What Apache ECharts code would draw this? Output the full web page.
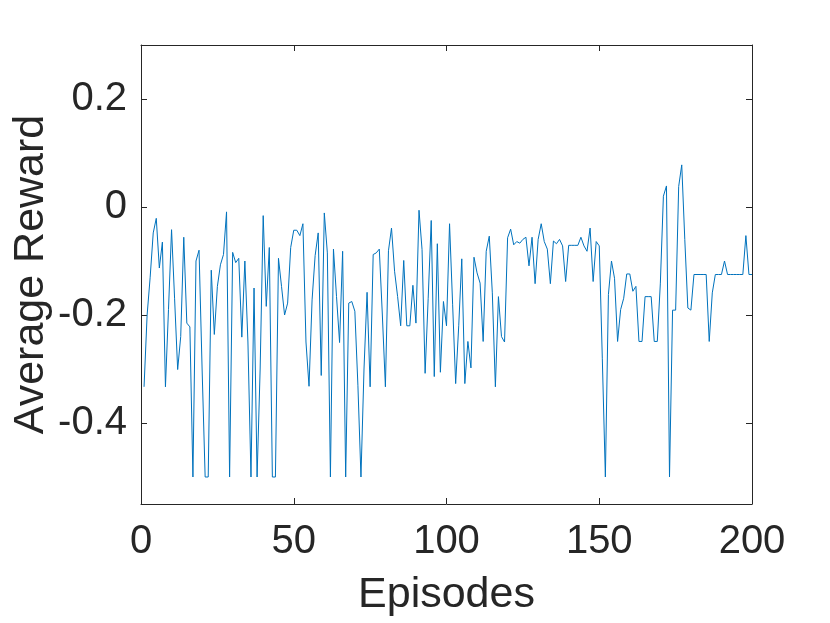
<!DOCTYPE html>
<html>
<head>
<meta charset="utf-8">
<script src="https://cdn.jsdelivr.net/npm/echarts@6/dist/echarts.min.js"></script>
<style>html,body{margin:0;padding:0;background:#fff}#c{width:830px;height:623px}</style>
</head>
<body>
<div id="c"></div>
<script>
// Average reward per episode (episodes 1..200)
const reward = [
 -0.333,-0.2,-0.13,-0.048,-0.021,-0.113,-0.065,-0.333,-0.19,-0.042,
 -0.17,-0.301,-0.24,-0.056,-0.215,-0.222,-0.5,-0.1,-0.08,-0.3,
 -0.5,-0.5,-0.117,-0.236,-0.147,-0.107,-0.088,-0.009,-0.5,-0.084,
 -0.103,-0.095,-0.241,-0.1,-0.25,-0.5,-0.15,-0.5,-0.3,-0.016,
 -0.184,-0.075,-0.5,-0.5,-0.095,-0.147,-0.2,-0.178,-0.075,-0.043,
 -0.043,-0.053,-0.031,-0.25,-0.332,-0.172,-0.09,-0.048,-0.312,-0.011,
 -0.085,-0.5,-0.078,-0.166,-0.251,-0.082,-0.5,-0.178,-0.175,-0.193,
 -0.33,-0.5,-0.3,-0.158,-0.333,-0.088,-0.085,-0.078,-0.2,-0.333,
 -0.081,-0.039,-0.119,-0.166,-0.22,-0.099,-0.22,-0.22,-0.145,-0.215,
 -0.006,-0.079,-0.308,-0.17,-0.025,-0.314,-0.068,-0.306,-0.175,-0.22,
 -0.031,-0.18,-0.327,-0.22,-0.096,-0.327,-0.249,-0.298,-0.093,-0.122,
 -0.141,-0.249,-0.082,-0.054,-0.159,-0.333,-0.166,-0.24,-0.25,-0.057,
 -0.041,-0.07,-0.064,-0.067,-0.06,-0.056,-0.109,-0.056,-0.142,-0.06,
 -0.031,-0.064,-0.078,-0.142,-0.063,-0.068,-0.06,-0.072,-0.138,-0.071,
 -0.071,-0.071,-0.071,-0.056,-0.072,-0.082,-0.039,-0.138,-0.064,-0.072,
 -0.28,-0.5,-0.162,-0.1,-0.132,-0.249,-0.19,-0.169,-0.124,-0.124,
 -0.156,-0.147,-0.249,-0.249,-0.166,-0.166,-0.166,-0.249,-0.249,-0.141,
 0.02,0.039,-0.5,-0.191,-0.191,0.038,0.078,-0.06,-0.187,-0.191,
 -0.125,-0.125,-0.125,-0.125,-0.125,-0.249,-0.159,-0.125,-0.125,-0.125,
 -0.1,-0.125,-0.125,-0.125,-0.125,-0.125,-0.125,-0.053,-0.125,-0.125
];
const firstEpisode = 1;
const xTicks = [0, 50, 100, 150, 200];
const yTicks = [-0.4, -0.2, 0, 0.2];
const xTitle = 'Episodes';
const yTitle = 'Average Reward';

const points = reward.map((v, i) => [firstEpisode + i, v]);
const ink = '#262626';
const font = 'Liberation Sans, Arial, Helvetica, sans-serif';

const chart = echarts.init(document.getElementById('c'), null, {renderer: 'canvas'});
const common = {
  axisLine: {show: true, onZero: false, lineStyle: {color: ink, width: 1}},
  axisTick: {show: true, inside: true, length: 6, lineStyle: {color: ink, width: 1}},
  splitLine: {show: false}
};
chart.setOption({
  animation: false,
  backgroundColor: '#fff',
  grid: {left: 141, right: 78, top: 45, bottom: 119, containLabel: false, outerBoundsMode: 'none'},
  xAxis: [
    Object.assign({}, common, {
      type: 'value', position: 'bottom', min: 0, max: 200, interval: 50,
      axisTick: Object.assign({}, common.axisTick, {customValues: xTicks}),
      axisLabel: {color: ink, fontSize: 40, fontFamily: font, margin: 18, customValues: xTicks},
      name: xTitle, nameLocation: 'middle', nameGap: 70, nameMoveOverlap: false,
      nameTextStyle: {color: ink, fontSize: 43, fontFamily: font}
    }),
    Object.assign({}, common, {
      type: 'value', position: 'top', min: 0, max: 200, interval: 50,
      axisTick: Object.assign({}, common.axisTick, {customValues: xTicks}),
      axisLabel: {show: false}
    })
  ],
  yAxis: [
    Object.assign({}, common, {
      type: 'value', position: 'left', min: -0.55, max: 0.3,
      axisTick: Object.assign({}, common.axisTick, {customValues: yTicks}),
      axisLabel: {color: ink, fontSize: 40, fontFamily: font, margin: 14, customValues: yTicks,
        formatter: v => (Math.abs(v) < 1e-9 ? '0' : String(Math.round(v * 10) / 10))},
      name: yTitle, nameLocation: 'middle', nameGap: 88, nameMoveOverlap: false,
      nameTextStyle: {color: ink, fontSize: 43, fontFamily: font}
    }),
    Object.assign({}, common, {
      type: 'value', position: 'right', min: -0.55, max: 0.3,
      axisTick: Object.assign({}, common.axisTick, {customValues: yTicks}),
      axisLabel: {show: false, customValues: yTicks}
    })
  ],
  series: [{
    type: 'line', data: points, xAxisIndex: 0, yAxisIndex: 0,
    showSymbol: false, symbol: 'none',
    lineStyle: {color: '#0072BD', width: 1},
    clip: true
  }]
});
</script>
</body>
</html>
